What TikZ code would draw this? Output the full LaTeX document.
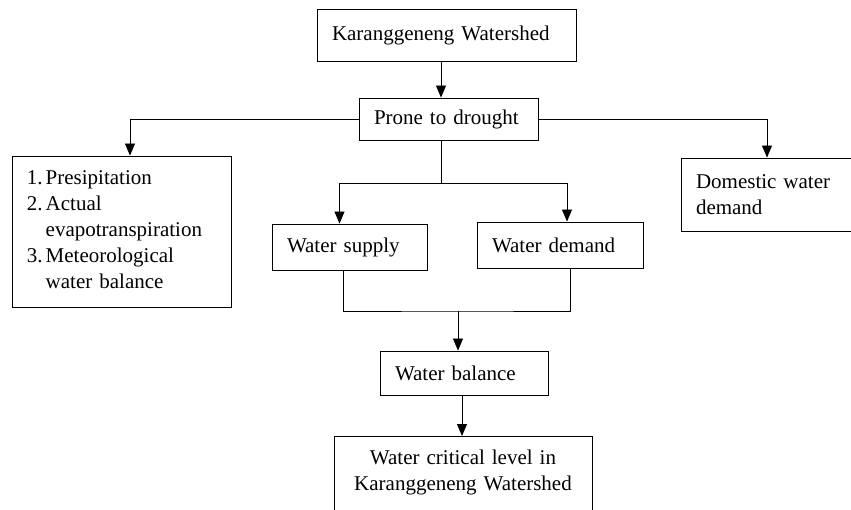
\documentclass[tikz,border=0pt]{standalone}
\usepackage{fontspec}
\setmainfont{Liberation Serif}
\usetikzlibrary{arrows.meta,positioning,calc}

\begin{document}
\begin{tikzpicture}[x=1pt,y=-1pt,font=\fontsize{21pt}{26pt}\selectfont,
  box/.style={draw,line width=0.9pt,inner xsep=15pt,inner ysep=0pt,align=left},
  link/.style={line width=0.8pt},
  arr/.style={link,-{Triangle[length=12pt,width=10pt]}}]
  \useasboundingbox (0,0) rectangle (851,509);
  \clip (0,0) rectangle (851,509);
  \node[box,text width=229pt,minimum height=52pt] (shed) at (446.5,35) {Karanggeneng Watershed};
  \node[box,text width=149pt,minimum height=42pt] (prone) at (448.5,119) {Prone to drought};
  \node[box,text width=189pt,minimum height=151pt] (params) at (121.5,231.5) {\begin{tabular}{@{}l@{\hspace{3pt}}l@{}}1. & Presipitation\\ 2. & Actual\\ & evapotranspiration\\ 3. & Meteorological\\ & water balance\end{tabular}};
  \node[box,text width=142pt,minimum height=73pt] (domestic) at (767,194.5) {Domestic water\\demand};
  \node[box,text width=125pt,minimum height=46pt] (supply) at (349.5,247) {Water supply};
  \node[box,text width=136pt,minimum height=46pt] (demand) at (560,245) {Water demand};
  \node[box,text width=138pt,minimum height=44pt] (balance) at (464,373) {Water balance};
  \node[box,align=center,text width=228pt,anchor=north,inner ysep=13pt,text depth=60pt] (crit) at (463,436) {Water critical level in\\Karanggeneng Watershed};
  \draw[arr] ([xshift=-5.5pt]shed.south) -- ([xshift=-5.5pt]shed.south |- prone.north);
  \draw[arr] (prone.west) -| ([xshift=8.5pt]params.north);
  \draw[arr] (prone.east) -| (domestic.north);
  \coordinate (split) at (441,183);
  \draw[link] (prone.south -| split) -- (split);
  \draw[arr] (split) -| ([xshift=-10pt]supply.north);
  \draw[arr] (split) -| ([xshift=7pt]demand.north);
  \coordinate (join) at (458,311);
  \draw[link] ([xshift=-6.5pt]supply.south) |- (join) -| ([xshift=10pt]demand.south);
  \draw[arr] (join) -- (join |- balance.north);
  \draw[arr] ([xshift=-2pt]balance.south) -- ([xshift=-2pt]balance.south |- crit.north);
\end{tikzpicture}
\end{document}
